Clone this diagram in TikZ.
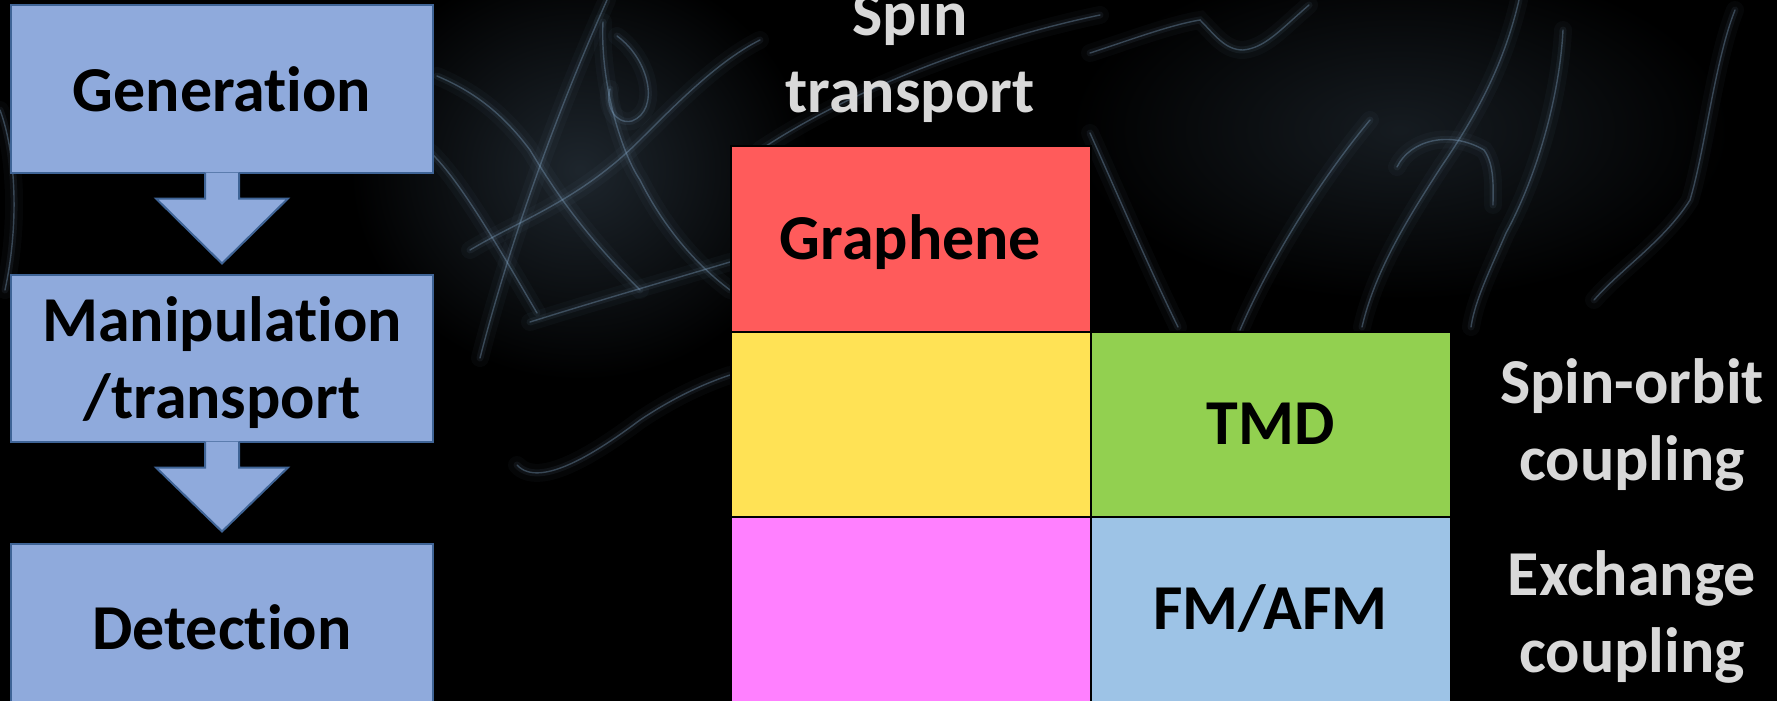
\documentclass[tikz,border=0pt]{standalone}
\usepackage{fontspec}
\setmainfont{Carlito}[Ligatures=NoCommon,RawFeature={-liga,-clig,-dlig}]
\usetikzlibrary{positioning}
\usetikzlibrary{calc}
\definecolor{boxblue}{HTML}{8FAADC}
\definecolor{boxline}{HTML}{3F6496}
\definecolor{cellred}{HTML}{FF5B5B}
\definecolor{cellyellow}{HTML}{FFE255}
\definecolor{cellgreen}{HTML}{92D050}
\definecolor{cellpink}{HTML}{FF80FF}
\definecolor{cellblue}{HTML}{9DC3E6}
\definecolor{labelgrey}{HTML}{D9D9D9}
\definecolor{smoke}{HTML}{86AACB}
\newcommand{\bigbold}{\fontsize{32pt}{38.5pt}\selectfont\bfseries}
\tikzstyle{stage}=[rectangle,fill=boxblue,draw=boxline,line width=1pt,minimum width=211pt,minimum height=83.5pt,inner sep=0pt,outer sep=0pt,align=center,font=\bigbold]
\tikzstyle{cell}=[rectangle,draw=black,line width=1pt,minimum width=180pt,minimum height=92.5pt,inner sep=0pt,outer sep=0pt,text height=20.2pt,text depth=0pt,font=\bigbold]
\tikzstyle{flowarrow}=[fill=boxblue,draw=boxline,line width=1pt,line join=miter]
\tikzstyle{sidelabel}=[text=labelgrey,align=center,font=\bigbold]
\tikzstyle{wispwide}=[draw=smoke,line cap=round,line width=9pt,opacity=.04]
\tikzstyle{wispglow}=[draw=smoke,line cap=round,line width=3.5pt,opacity=.08]
\tikzstyle{wispcore}=[draw=smoke,line cap=round,line width=.7pt,opacity=.35]
\newcommand{\wisp}[1]{\draw[wispwide] #1; \draw[wispglow] #1; \draw[wispcore] #1;}

\begin{document}
\begin{tikzpicture}[x=0.5pt,y=-0.5pt]

  \fill[black] (0,0) rectangle (1777,701);
  \useasboundingbox (0,0) rectangle (1777,701);

  % smoke in the background
  \shade[inner color=smoke!22!black, outer color=black] (580,170) ellipse (230 and 210);
  \shade[inner color=smoke!16!black, outer color=black] (1400,130) ellipse (330 and 170);
  \wisp{(480,358) .. controls (500,280) and (540,150) .. (607,0)}
  \wisp{(437,76) .. controls (470,90) and (500,110) .. (530,150) .. controls (560,200) and (590,240) .. (640,290)}
  \wisp{(603,22) .. controls (600,80) and (620,150) .. (640,180) .. controls (660,220) and (690,260) .. (730,290)}
  \wisp{(517,465) .. controls (540,490) and (600,450) .. (640,420) .. controls (670,400) and (700,385) .. (730,375)}
  \wisp{(617,36) .. controls (650,60) and (660,110) .. (632,121) .. controls (615,125) and (605,105) .. (610,89)}
  \wisp{(430,152) .. controls (460,180) and (500,250) .. (537,313)}
  \wisp{(530,322) .. controls (600,300) and (670,280) .. (730,262)}
  \wisp{(470,250) .. controls (520,220) and (580,200) .. (640,140) .. controls (680,100) and (720,60) .. (760,40)}
  \wisp{(760,150) .. controls (850,90) and (980,40) .. (1100,15)}
  \wisp{(1090,53) .. controls (1130,40) and (1170,25) .. (1200,20) .. controls (1215,35) and (1225,50) .. (1243,50) .. controls (1265,48) and (1280,30) .. (1309,5)}
  \wisp{(1519,0) .. controls (1505,60) and (1480,110) .. (1441,167) .. controls (1410,215) and (1375,270) .. (1362,327)}
  \wisp{(1563,30) .. controls (1560,90) and (1540,170) .. (1506,233) .. controls (1490,270) and (1475,300) .. (1471,327)}
  \wisp{(1735,10) .. controls (1715,60) and (1705,150) .. (1690,200) .. controls (1665,240) and (1620,270) .. (1594,300)}
  \wisp{(1397,167) .. controls (1410,140) and (1450,130) .. (1484,150) .. controls (1495,165) and (1493,190) .. (1493,205)}
  \wisp{(1090,133) .. controls (1120,200) and (1150,270) .. (1178,327)}
  \wisp{(1240,330) .. controls (1270,260) and (1320,180) .. (1370,120)}
  \wisp{(0,110) .. controls (15,150) and (20,220) .. (5,290)}

  % left column: generation -> manipulation -> detection
  \node[stage] (gen) at (222,89) {Generation};
  \node[stage, below=51pt of gen] (manip) {\strut Manipulation\\/transport};
  \node[stage, below=51pt of manip] (detect) {Detection};

  \foreach \from/\to/\gap in {gen/manip/11, manip/detect/12}
    \draw[flowarrow] ($(\from.south)+(-17,0)$) -- ($(\from.south)+(-17,26)$) -- ($(\from.south)+(-66,26)$)
      -- ($(\to.north)+(0,-\gap)$) -- ($(\from.south)+(66,26)$) -- ($(\from.south)+(17,26)$) -- ($(\from.south)+(17,0)$);

  % material table
  \node[cell, fill=cellred] (graphene) at (910.5,239) {Graphene};
  \node[cell, fill=cellyellow, below=0pt of graphene] (yellowcell) {};
  \node[cell, fill=cellpink, below=0pt of yellowcell] (pinkcell) {};
  \node[cell, fill=cellgreen, right=0pt of yellowcell] (tmd) {TMD};
  \node[cell, fill=cellblue, right=0pt of pinkcell] (fmafm) {FM/AFM};

  % labels round the table
  \node[sidelabel] (spintrans) at (910,57) {Spin\\transport};
  \node[sidelabel] (soc) at (1632,425) {Spin-orbit\\coupling};
  \node[sidelabel] (exch) at (1632,617) {Exchange\\coupling};

\end{tikzpicture}
\end{document}
